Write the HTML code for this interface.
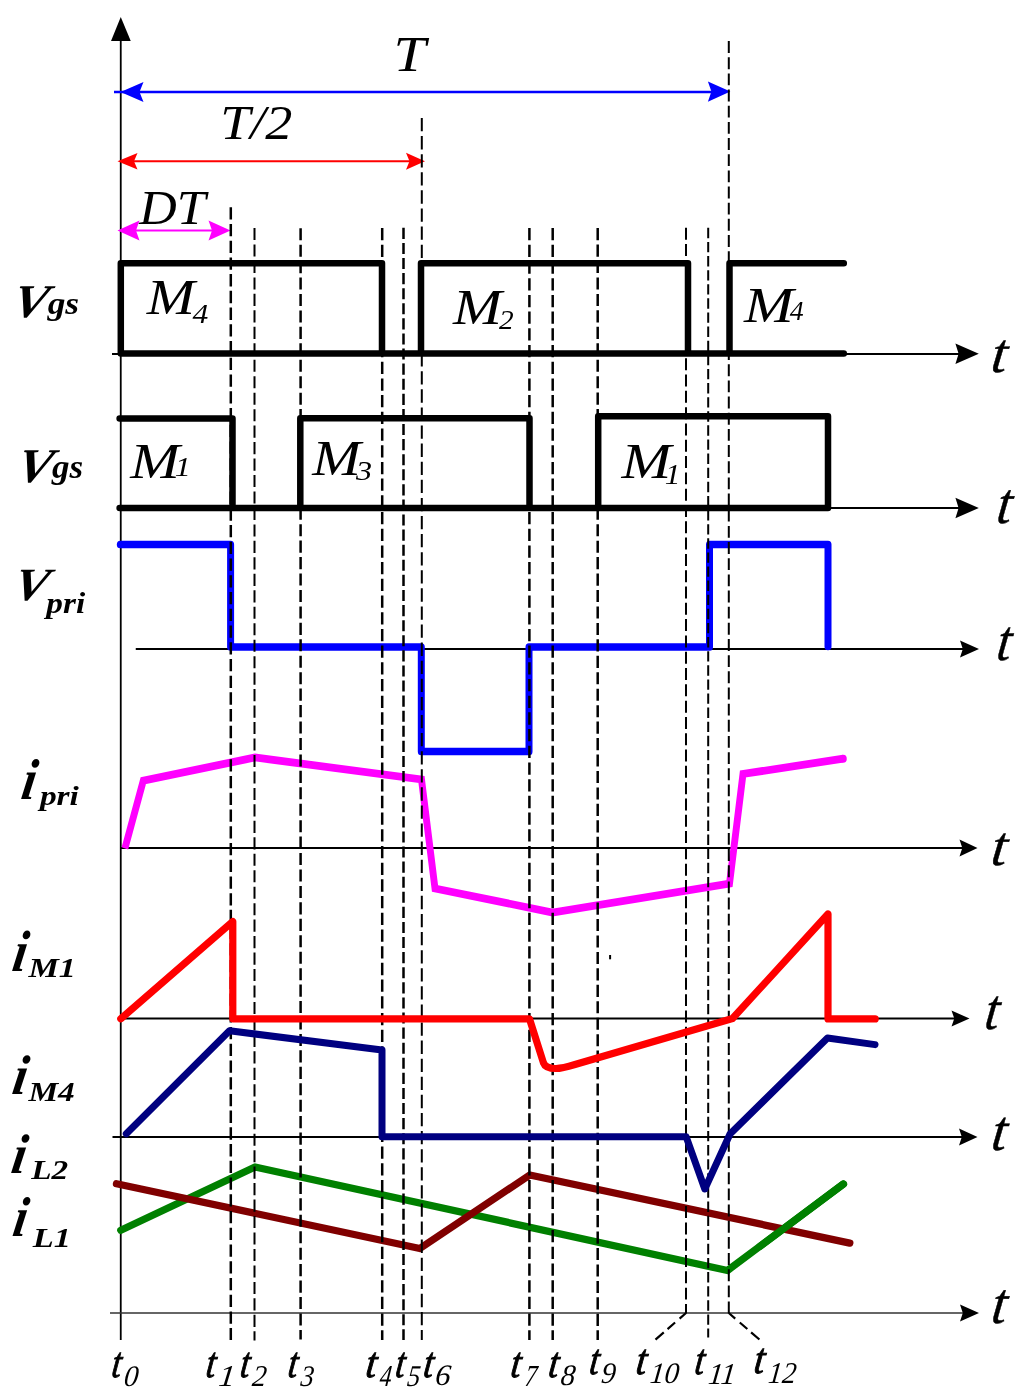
<!DOCTYPE html>
<html><head><meta charset="utf-8"><title>Waveforms</title>
<style>
html,body{margin:0;padding:0;background:#fff;}
svg{display:block;}
text{font-family:"Liberation Serif","Times New Roman",serif;}
</style></head><body>
<svg width="1024" height="1399" viewBox="0 0 1024 1399">
<rect width="1024" height="1399" fill="#fff"/>
<g stroke="#000" stroke-width="1.8" fill="none">
<line x1="120.75" y1="38" x2="120.75" y2="1340"/>
<line x1="112" y1="354" x2="960" y2="354"/>
<line x1="118" y1="508" x2="960" y2="508"/>
<line x1="135.75" y1="649" x2="963" y2="649"/>
<line x1="120" y1="848" x2="963" y2="848"/>
<line x1="120" y1="1018.5" x2="955" y2="1018.5"/>
<line x1="112.5" y1="1137" x2="963" y2="1137"/>
</g>
<line x1="110" y1="1313" x2="963" y2="1313" stroke="#333" stroke-width="1.3"/>
<path d="M120.75,17 L111,41 L130.75,41 Z" fill="#000"/>
<path d="M978.8,353.8 L955.4,343.6 L958.6,353.8 L955.4,364.0 Z" fill="#000"/>
<path d="M978.8,508 L955.4,497.7 L958.6,508 L955.4,518.3 Z" fill="#000"/>
<path d="M979,649 L960,640.5 L962.8,649 L960,657.5 Z" fill="#000"/>
<path d="M977.5,848 L959.5,839.5 L962.3,848 L959.5,856.5 Z" fill="#000"/>
<path d="M969.5,1018.5 L951.5,1010.5 L954.3,1018.5 L951.5,1026.5 Z" fill="#000"/>
<path d="M977.5,1137 L959.0,1128.5 L961.8,1137 L959.0,1145.5 Z" fill="#000"/>
<path d="M979,1313 L960,1304.5 L962.8,1313 L960,1321.5 Z" fill="#000"/>
<line x1="114" y1="92" x2="712" y2="92" stroke="#00f" stroke-width="2.3"/>
<path d="M120.5,92 L143.5,82 L139.5,92 L143.5,102 Z" fill="#00f"/>
<path d="M730.4,91.6 L707.9,81.39999999999999 L711.4,91.6 L707.9,101.8 Z" fill="#00f"/>
<line x1="122" y1="161.3" x2="410" y2="161.3" stroke="#f00" stroke-width="2"/>
<path d="M117.5,161.3 L137.5,153.0 L134.0,161.3 L137.5,169.60000000000002 Z" fill="#f00"/>
<path d="M425,161.3 L406,152.8 L409.5,161.3 L406,169.8 Z" fill="#f00"/>
<line x1="125" y1="230.5" x2="222" y2="230.5" stroke="#f0f" stroke-width="2"/>
<path d="M117.5,230.5 L139.5,220.5 L136.0,230.5 L139.5,240.5 Z" fill="#f0f"/>
<path d="M230.5,230.5 L208.5,220.5 L212.0,230.5 L208.5,240.5 Z" fill="#f0f"/>
<g fill="none" stroke-linejoin="round" stroke-linecap="round">
<path transform="scale(1,1.1)" stroke="#00f" stroke-width="7.0" d="M120.3,495.00 L230.6,495.00 L230.6,588.18 L421.3,588.18 L421.3,683.18 L529,683.18 L529,588.18 L709.5,588.18 L709.5,495.00 L828,495.00 L828,587.73"/>
<path transform="scale(1,1.13)" stroke="#f0f" stroke-width="6.9" stroke-linejoin="miter" stroke-linecap="butt" d="M124.9,750.71 L143.3,690.80 L255,670.35 L421.5,689.82 L435,786.28 L552.5,807.52 L729.5,781.86 L743,684.96 L843.3,671.42"/>
<ellipse cx="843.3" cy="758.7" rx="3.45" ry="3.9" fill="#f0f" stroke="none"/>
<path stroke="#008000" stroke-width="7.3" d="M120.8,1230.3 L255,1167 L727.5,1270.5 L843.4,1184"/>
<path stroke="#800000" stroke-width="7.3" d="M116.5,1183.8 L419.8,1248.5 L529.8,1175 L849.8,1243.1"/>
<path stroke="#008000" stroke-width="7.3" d="M760,1246.3 L843.4,1184"/>
</g>
<g stroke="#000" fill="none">
<line x1="230.8" y1="207.2" x2="230.8" y2="1340" stroke-width="2.5" stroke-dasharray="12.297 4.433"/>
<line x1="254.5" y1="228.0" x2="254.5" y2="1340.5" stroke-width="2.0" stroke-dasharray="12.103 4.364"/>
<line x1="300.6" y1="228.2" x2="300.6" y2="1339.5" stroke-width="2.5" stroke-dasharray="12.086 4.357"/>
<line x1="382.2" y1="228.1" x2="382.2" y2="1340" stroke-width="2.5" stroke-dasharray="12.274 4.425"/>
<line x1="403.5" y1="227.8" x2="403.5" y2="1340" stroke-width="2.5" stroke-dasharray="11.091 3.999"/>
<line x1="421.8" y1="118" x2="421.8" y2="1340" stroke-width="2.0" stroke-dasharray="13.296 4.794"/>
<line x1="529.4" y1="228.1" x2="529.4" y2="1340" stroke-width="2.5" stroke-dasharray="12.274 4.425"/>
<line x1="552.7" y1="228.1" x2="552.7" y2="1340" stroke-width="2.5" stroke-dasharray="12.274 4.425"/>
<line x1="597.7" y1="228.1" x2="597.7" y2="1340" stroke-width="2.5" stroke-dasharray="12.091 4.359"/>
<line x1="686.0" y1="227.8" x2="686.0" y2="1313.5" stroke-width="2.0" stroke-dasharray="11.984 4.321"/>
<line x1="708.2" y1="227.8" x2="708.2" y2="1337.5" stroke-width="2.0" stroke-dasharray="10.372 3.740"/>
<line x1="728.8" y1="41.1" x2="728.8" y2="1313.5" stroke-width="2.0" stroke-dasharray="11.878 4.282"/>
<path d="M686,1313 L654.5,1340.5" stroke-width="2.2" stroke-dasharray="8.5 6 10 5 11 5"/>
<path d="M728.8,1313 L760,1340" stroke-width="2.2" stroke-dasharray="8.5 6 10 5 11 5"/>
</g>
<g fill="none" stroke-linejoin="round" stroke-linecap="round">
<path stroke="#f00" stroke-width="7.2" d="M120.8,1018.8 L232.8,921.5 L232.8,1018.8 L529.5,1018.8 L543.5,1063 Q545.5,1068.5 556,1068.5 Q562,1068.5 575,1064.5 L732.5,1018.5 L828,914 L828,1018.9 L875.2,1018.9"/>
<path stroke="#000080" stroke-width="7.0" d="M126.3,1133.8 L229.5,1030.8 L382,1050 L382,1136.8 L686.2,1136.8 L704.8,1189 L730,1134 L827.5,1038 L875,1044.6"/>
<path stroke="#000" stroke-width="6.5" d="M843.8,353.6 L120.8,353.6 L120.8,263.3 L382,263.3 L382,353.6 M421,353.6 L421,263.3 L688,263.3 L688,353.6 M729.5,353.6 L729.5,263.3 L843.8,263.3"/>
<path stroke="#000" stroke-width="6.5" d="M119.6,418.5 L232.5,418.5 L232.5,508 M119.6,508 L828,508 L828,416.3 L598.2,416.3 L598.2,508 M300.3,508 L300.3,418.3 L529.5,418.3 L529.5,508"/>
</g>
<line x1="610.1" y1="955" x2="610.1" y2="959.3" stroke="#000" stroke-width="2"/>
<g><text transform="translate(393.50,70.70) scale(1.162,1)" font-size="49.94" font-style="italic" font-weight="normal" fill="#000">T</text>
<text transform="translate(220.21,139.03) scale(1.137,1)" font-size="47.63" font-style="italic" font-weight="normal" fill="#000">T/2</text>
<text transform="translate(139.33,223.66) scale(1.091,1)" font-size="47.58" font-style="italic" font-weight="normal" fill="#000">DT</text>
<text transform="translate(146.68,313.75) scale(1.156,1)" font-size="50.02" font-style="italic" font-weight="normal" fill="#000">M</text>
<text transform="translate(192.42,323.00) scale(1.155,1)" font-size="27.35" font-style="italic" font-weight="normal" fill="#000">4</text>
<text transform="translate(453.09,324.00) scale(1.183,1)" font-size="49.63" font-style="italic" font-weight="normal" fill="#000">M</text>
<text transform="translate(498.99,329.00) scale(1.061,1)" font-size="27.64" font-style="italic" font-weight="normal" fill="#000">2</text>
<text transform="translate(744.00,321.50) scale(1.201,1)" font-size="49.63" font-style="italic" font-weight="normal" fill="#000">M</text>
<text transform="translate(789.73,320.00) scale(0.989,1)" font-size="28.11" font-style="italic" font-weight="normal" fill="#000">4</text>
<text transform="translate(130.20,478.00) scale(1.199,1)" font-size="49.63" font-style="italic" font-weight="normal" fill="#000">M</text>
<text transform="translate(174.85,476.25) scale(1.215,1)" font-size="26.51" font-style="italic" font-weight="normal" fill="#000">1</text>
<text transform="translate(312.18,475.00) scale(1.176,1)" font-size="49.63" font-style="italic" font-weight="normal" fill="#000">M</text>
<text transform="translate(356.05,480.23) scale(1.167,1)" font-size="27.53" font-style="italic" font-weight="normal" fill="#000">3</text>
<text transform="translate(621.45,478.00) scale(1.205,1)" font-size="49.63" font-style="italic" font-weight="normal" fill="#000">M</text>
<text transform="translate(664.63,483.75) scale(1.081,1)" font-size="29.16" font-style="italic" font-weight="normal" fill="#000">1</text>
<text transform="translate(989.88,371.70) skewX(-7) scale(0.992,1)" font-size="55.87" font-style="italic" font-weight="normal" fill="#000" stroke="#000" stroke-width="0.5">t</text>
<text transform="translate(995.50,522.93) skewX(-7) scale(0.910,1)" font-size="58.05" font-style="italic" font-weight="normal" fill="#000" stroke="#000" stroke-width="0.5">t</text>
<text transform="translate(995.58,660.19) skewX(-7) scale(0.885,1)" font-size="57.62" font-style="italic" font-weight="normal" fill="#000" stroke="#000" stroke-width="0.5">t</text>
<text transform="translate(989.88,865.45) skewX(-7) scale(0.992,1)" font-size="55.87" font-style="italic" font-weight="normal" fill="#000" stroke="#000" stroke-width="0.5">t</text>
<text transform="translate(983.58,1028.69) skewX(-7) scale(0.885,1)" font-size="57.62" font-style="italic" font-weight="normal" fill="#000" stroke="#000" stroke-width="0.5">t</text>
<text transform="translate(990.19,1150.44) skewX(-7) scale(0.946,1)" font-size="57.18" font-style="italic" font-weight="normal" fill="#000" stroke="#000" stroke-width="0.5">t</text>
<text transform="translate(990.20,1323.18) skewX(-7) scale(0.927,1)" font-size="58.05" font-style="italic" font-weight="normal" fill="#000" stroke="#000" stroke-width="0.5">t</text>
<text transform="translate(10.38,316.79) skewX(-12) scale(1.116,1)" font-size="47.02" font-style="italic" font-weight="bold" fill="#000">V</text>
<text transform="translate(47.66,313.73) scale(1.112,1)" font-size="31.79" font-style="italic" font-weight="bold" fill="#000">gs</text>
<text transform="translate(14.40,481.77) skewX(-12) scale(1.090,1)" font-size="48.51" font-style="italic" font-weight="bold" fill="#000">V</text>
<text transform="translate(51.90,478.00) scale(1.066,1)" font-size="32.89" font-style="italic" font-weight="bold" fill="#000">gs</text>
<text transform="translate(11.53,600.30) skewX(-12) scale(1.118,1)" font-size="46.27" font-style="italic" font-weight="bold" fill="#000">V</text>
<text transform="translate(46.37,612.59) scale(1.148,1)" font-size="28.95" font-style="italic" font-weight="bold" fill="#000">pri</text>
<text transform="translate(19.70,798.75) skewX(-9) scale(0.886,1)" font-size="57.65" font-style="italic" font-weight="bold" fill="#000">i</text>
<text transform="translate(39.88,804.63) scale(1.213,1)" font-size="27.57" font-style="italic" font-weight="bold" fill="#000">pri</text>
<text transform="translate(10.71,971.25) skewX(-9) scale(0.869,1)" font-size="58.37" font-style="italic" font-weight="bold" fill="#000">i</text>
<text transform="translate(28.45,977.00) scale(1.237,1)" font-size="27.64" font-style="italic" font-weight="bold" fill="#000">M1</text>
<text transform="translate(10.68,1093.75) skewX(-9) scale(0.929,1)" font-size="55.85" font-style="italic" font-weight="bold" fill="#000">i</text>
<text transform="translate(28.44,1100.50) scale(1.219,1)" font-size="27.35" font-style="italic" font-weight="bold" fill="#000">M4</text>
<text transform="translate(9.68,1172.50) skewX(-9) scale(0.929,1)" font-size="55.85" font-style="italic" font-weight="bold" fill="#000">i</text>
<text transform="translate(31.24,1178.75) scale(1.209,1)" font-size="27.56" font-style="italic" font-weight="bold" fill="#000">L2</text>
<text transform="translate(11.24,1236.00) skewX(-9) scale(0.884,1)" font-size="56.21" font-style="italic" font-weight="bold" fill="#000">i</text>
<text transform="translate(32.75,1247.00) scale(1.245,1)" font-size="27.64" font-style="italic" font-weight="bold" fill="#000">L1</text>
<text transform="translate(110.77,1376.68) skewX(-7) scale(0.787,1)" font-size="42.95" font-style="italic" font-weight="normal" fill="#000" stroke="#000" stroke-width="1.0">t</text>
<text transform="translate(123.22,1385.51) skewX(-6) scale(0.970,1)" font-size="29.64" font-style="italic" font-weight="normal" fill="#000">0</text>
<text transform="translate(205.03,1376.68) skewX(-7) scale(0.805,1)" font-size="42.95" font-style="italic" font-weight="normal" fill="#000" stroke="#000" stroke-width="1.0">t</text>
<text transform="translate(217.81,1385.80) skewX(-6) scale(1.100,1)" font-size="30.30" font-style="italic" font-weight="normal" fill="#000">1</text>
<text transform="translate(239.25,1376.68) skewX(-7) scale(0.796,1)" font-size="42.95" font-style="italic" font-weight="normal" fill="#000" stroke="#000" stroke-width="1.0">t</text>
<text transform="translate(251.59,1385.80) skewX(-6) scale(0.943,1)" font-size="30.21" font-style="italic" font-weight="normal" fill="#000">2</text>
<text transform="translate(287.03,1376.68) skewX(-7) scale(0.805,1)" font-size="42.95" font-style="italic" font-weight="normal" fill="#000" stroke="#000" stroke-width="1.0">t</text>
<text transform="translate(300.07,1385.51) skewX(-6) scale(0.892,1)" font-size="29.77" font-style="italic" font-weight="normal" fill="#000">3</text>
<text transform="translate(364.86,1376.68) skewX(-7) scale(0.897,1)" font-size="42.95" font-style="italic" font-weight="normal" fill="#000" stroke="#000" stroke-width="1.0">t</text>
<text transform="translate(378.94,1385.80) skewX(-6) scale(0.783,1)" font-size="30.39" font-style="italic" font-weight="normal" fill="#000">4</text>
<text transform="translate(394.47,1376.68) skewX(-7) scale(0.787,1)" font-size="42.95" font-style="italic" font-weight="normal" fill="#000" stroke="#000" stroke-width="1.0">t</text>
<text transform="translate(406.62,1385.51) skewX(-6) scale(0.870,1)" font-size="30.10" font-style="italic" font-weight="normal" fill="#000">5</text>
<text transform="translate(422.40,1376.68) skewX(-7) scale(0.823,1)" font-size="42.95" font-style="italic" font-weight="normal" fill="#000" stroke="#000" stroke-width="1.0">t</text>
<text transform="translate(434.48,1384.71) skewX(-6) scale(1.034,1)" font-size="29.77" font-style="italic" font-weight="normal" fill="#000">6</text>
<text transform="translate(509.66,1376.68) skewX(-7) scale(0.842,1)" font-size="42.95" font-style="italic" font-weight="normal" fill="#000" stroke="#000" stroke-width="1.0">t</text>
<text transform="translate(524.21,1385.80) skewX(-6) scale(0.778,1)" font-size="30.54" font-style="italic" font-weight="normal" fill="#000">7</text>
<text transform="translate(547.46,1376.68) skewX(-7) scale(0.842,1)" font-size="42.95" font-style="italic" font-weight="normal" fill="#000" stroke="#000" stroke-width="1.0">t</text>
<text transform="translate(560.12,1384.71) skewX(-6) scale(0.981,1)" font-size="29.64" font-style="italic" font-weight="normal" fill="#000">8</text>
<text transform="translate(588.43,1374.18) skewX(-7) scale(0.805,1)" font-size="42.95" font-style="italic" font-weight="normal" fill="#000" stroke="#000" stroke-width="1.0">t</text>
<text transform="translate(600.48,1382.51) skewX(-6) scale(0.975,1)" font-size="29.77" font-style="italic" font-weight="normal" fill="#000">9</text>
<text transform="translate(635.09,1373.68) skewX(-7) scale(0.878,1)" font-size="42.95" font-style="italic" font-weight="normal" fill="#000" stroke="#000" stroke-width="1.0">t</text>
<text transform="translate(649.19,1382.71) skewX(-6) scale(0.982,1)" font-size="29.64" font-style="italic" font-weight="normal" fill="#000">10</text>
<text transform="translate(693.63,1374.18) skewX(-7) scale(0.805,1)" font-size="42.95" font-style="italic" font-weight="normal" fill="#000" stroke="#000" stroke-width="1.0">t</text>
<text transform="translate(707.44,1383.80) skewX(-6) scale(0.982,1)" font-size="30.30" font-style="italic" font-weight="normal" fill="#000">11</text>
<text transform="translate(752.89,1373.38) skewX(-7) scale(0.878,1)" font-size="42.95" font-style="italic" font-weight="normal" fill="#000" stroke="#000" stroke-width="1.0">t</text>
<text transform="translate(767.40,1382.50) skewX(-6) scale(0.927,1)" font-size="30.21" font-style="italic" font-weight="normal" fill="#000">12</text></g>
</svg></body></html>
